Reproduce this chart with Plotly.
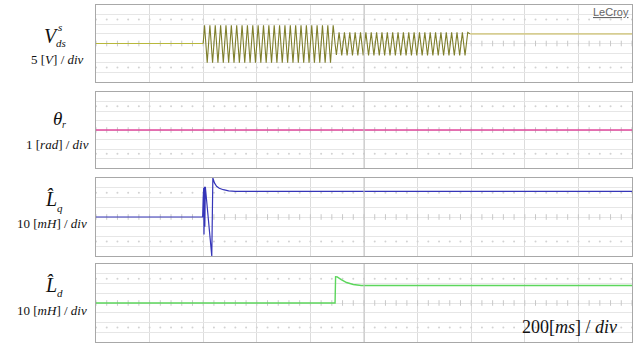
import numpy as np
import plotly.graph_objects as go

# ---------------- data (time in ms, values in divisions) ----------------
T_END = 2000
HALF_PERIOD = 10  # ms between extrema of the 50 Hz waveform

vds_pre_t = [0, 400]
vds_pre_v = [0.0, 0.0]
vds_seg1_start = 400
vds_seg1_v = [1.9, -2.0, 1.9, -2.0, 1.9, -2.0, 1.9, -2.0, 1.9, -2.0,
              1.9, -2.0, 1.9, -2.0, 1.9, -2.0, 1.9, -2.0, 1.9, -2.0,
              1.9, -2.0, 1.9, -2.0, 1.9, -2.0, 1.9, -2.0, 1.9, -2.0,
              1.9, -2.0, 1.9, -2.0, 1.9, -2.0, 1.9, -2.0, 1.9, -2.0,
              1.9, -2.0, 1.9, -2.0, 1.9, -2.0, 1.9, -2.0, 1.9]
vds_seg2_start = 892
vds_seg2_v = [-1.2, 1.15, -1.25, 1.15, -1.25, 1.15, -1.25, 1.15, -1.25, 1.15,
              -1.25, 1.15, -1.25, 1.15, -1.25, 1.15, -1.25, 1.15, -1.25, 1.15,
              -1.25, 1.15, -1.25, 1.15, -1.25, 1.15, -1.25, 1.15, -1.25, 1.15,
              -1.25, 1.15, -1.25, 1.15, -1.25, 1.15, -1.25, 1.15, -1.25, 1.15,
              -1.25, 1.15, -1.25, 1.15, -1.25, 1.15, -1.25, 1.15, -1.25, 1.15]
vds_post_t = [1396, 2000]
vds_post_v = [1.0, 1.0]

theta_t = [0, 2000]
theta_v = [0.0, 0.0]

lq_t = [0, 120, 260, 385, 398, 400, 401, 402, 403, 405, 406, 408, 432, 436,
        442, 450, 460, 475, 495, 520, 2000]
lq_v = [0.0, 0.0, 0.0, 0.0, 0.0, 2.0, -1.5, 3.0, -1.8, 3.1, -1.0, 3.1, -4.0, 4.0,
        3.5, 3.15, 2.95, 2.8, 2.68, 2.62, 2.62]

ld_t = [0, 892, 894, 900, 915, 935, 960, 990, 2000]
ld_v = [0.0, 0.0, 2.7, 2.68, 2.4, 2.1, 1.9, 1.8, 1.8]

# ---------------- figure ----------------
W, H = 640, 343
x0, x1 = 96, 632
panels = [(5, 82), (92, 168), (178, 256), (264, 342)]

fig = go.Figure()

def pxx(x):
    return x / W

def pxy(y):
    return 1 - y / H

grid_col = "#dcdcdc"
border_col = "#a8a8a8"

for i, (top, bot) in enumerate(panels):
    n = "" if i == 0 else str(i + 1)
    fig.update_layout(**{
        "xaxis" + n: dict(domain=[pxx(x0), pxx(x1)], range=[0, T_END], dtick=200,
                          showgrid=True, gridcolor=grid_col, gridwidth=1,
                          showticklabels=False, zeroline=False, ticks="",
                          showline=True, linecolor=border_col, mirror=True,
                          anchor="y" + n, fixedrange=True),
        "yaxis" + n: dict(domain=[pxy(bot), pxy(top)], range=[-4, 4], dtick=1,
                          showgrid=True, gridcolor="#e6e6e6", gridwidth=1,
                          showticklabels=False, zeroline=False, ticks="",
                          showline=True, linecolor=border_col, mirror=True,
                          anchor="x" + n, fixedrange=True),
    })
    xa = "x" + n
    ya = "y" + n
    fig.add_shape(type="line", xref=xa, yref=ya, x0=1000, x1=1000, y0=-4, y1=4,
                  line=dict(color="#c4c4c4", width=1))
    dots_x = list(range(0, T_END + 1, 40))
    for yy in (2.5, -2.5):
        fig.add_trace(go.Scatter(x=dots_x, y=[yy] * len(dots_x), mode="markers",
                                 marker=dict(size=2, color="#d2d2d2"),
                                 xaxis=xa, yaxis=ya, hoverinfo="skip", showlegend=False))
    fig.add_trace(go.Scatter(x=dots_x, y=[0] * len(dots_x), mode="markers",
                             marker=dict(symbol="line-ns", size=4, color="#c8c8c8",
                                         line=dict(width=1, color="#c8c8c8")),
                             xaxis=xa, yaxis=ya, hoverinfo="skip", showlegend=False))

def add_line(t, v, color, axis_n, width=1.2):
    n = "" if axis_n == 1 else str(axis_n)
    fig.add_trace(go.Scatter(x=t, y=v, mode="lines", line=dict(color=color, width=width),
                             xaxis="x" + n, yaxis="y" + n, hoverinfo="skip", showlegend=False))

# V_ds
add_line(vds_pre_t, vds_pre_v, "#b8b83c", 1)
s1_t = [vds_seg1_start] + [vds_seg1_start + 5 + HALF_PERIOD * k for k in range(len(vds_seg1_v))] + [vds_seg2_start]
s1_v = [0.0] + vds_seg1_v + [0.0]
add_line(s1_t, s1_v, "#7f7f2c", 1, width=1.1)
s2_t = [vds_seg2_start] + [vds_seg2_start + 5 + HALF_PERIOD * k for k in range(len(vds_seg2_v))] + [vds_post_t[0]]
s2_v = [0.0] + vds_seg2_v + [vds_post_v[0]]
add_line(s2_t, s2_v, "#7f7f2c", 1, width=1.1)
add_line(vds_post_t, vds_post_v, "#d6cd92", 1, width=1.6)

add_line(theta_t, theta_v, "#e0479c", 2, width=1.4)
add_line(lq_t, lq_v, "#3535b8", 3, width=1.2)
add_line(ld_t, ld_v, "#5cd65c", 4, width=1.4)

# ---------------- labels ----------------
serif = "Liberation Serif"
def ann(text, x, y, size, family=serif, color="#111111", xanchor="center"):
    fig.add_annotation(text=text, x=pxx(x), y=pxy(y), xref="paper", yref="paper",
                       showarrow=False, xanchor=xanchor, yanchor="middle",
                       font=dict(family=family, size=size, color=color))

ann("<i>V</i>", 51, 36, 20)
ann("<i>s</i>", 60, 27, 11)
ann("<i>ds</i>", 61, 43, 11)
ann("5 [<i>V</i>] / <i>div</i>", 57, 59, 13)

ann("<i>θ</i>", 57, 118, 19)
ann("<i>r</i>", 64, 124, 10)
ann("1 [<i>rad</i>] / <i>div</i>", 57, 144, 13)

ann("<i>L\u0302</i>", 51, 199, 20)
ann("<i>q</i>", 60, 208, 11)
ann("10 [<i>mH</i>] / <i>div</i>", 52, 224, 13)

ann("<i>L\u0302</i>", 51, 285, 20)
ann("<i>d</i>", 60, 293, 11)
ann("10 [<i>mH</i>] / <i>div</i>", 52, 310, 13)

ann("200[<i>ms</i>] / <i>div</i>", 569, 327, 18)
ann("<u>LeCroy</u>", 611, 12, 11, family="Liberation Sans", color="#666666")

fig.update_layout(width=W, height=H, margin=dict(l=0, r=0, t=0, b=0),
                  paper_bgcolor="white", plot_bgcolor="white", showlegend=False)

fig.write_html("out.html", config={"displayModeBar": False},
               post_script="document.body.style.margin='0';document.body.style.overflow='hidden';")
